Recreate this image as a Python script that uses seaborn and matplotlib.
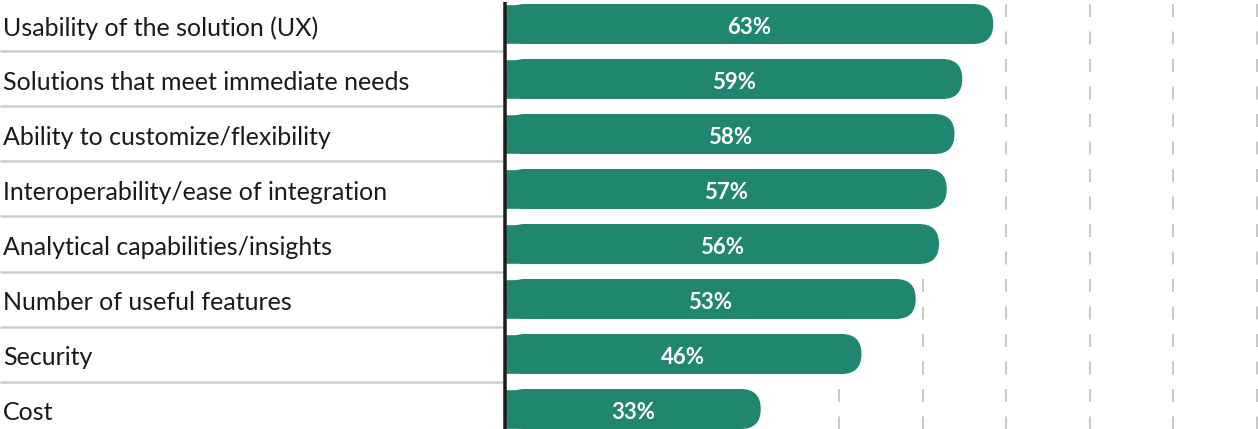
import matplotlib
matplotlib.use("Agg")
import matplotlib.pyplot as plt
import matplotlib.transforms as mtransforms
from matplotlib.patches import FancyBboxPatch
import numpy as np
import pandas as pd
import seaborn as sns

categories = [
    "Usability of the solution (UX)",
    "Solutions that meet immediate needs",
    "Ability to customize/flexibility",
    "Interoperability/ease of integration",
    "Analytical capabilities/insights",
    "Number of useful features",
    "Security",
    "Cost",
]
values = [63, 59, 58, 57, 56, 53, 46, 33]
value_labels = ["63%", "59%", "58%", "57%", "56%", "53%", "46%", "33%"]

BAR_COLOR = "#218670"
GRID_COLOR = "#c9c9c9"
SEP_COLOR = "#cccccc"
AXIS_COLOR = "#1c1c1c"

sns.set_theme(style="white")
plt.rcParams["font.family"] = ["Lato", "DejaVu Sans"]
plt.rcParams["lines.scale_dashes"] = False

W, H, DPI = 1258, 429, 100
fig = plt.figure(figsize=(W / DPI, H / DPI), dpi=DPI)
ax_left_px = 505
ax = fig.add_axes([ax_left_px / W, 0, (W - ax_left_px) / W, 1])

df = pd.DataFrame({"category": categories, "value": values})
bar_h = 40 / 55
sns.barplot(data=df, x="value", y="category", orient="h", color=BAR_COLOR,
            saturation=1, width=bar_h, ax=ax, zorder=2)

XMAX = 97.16
ax.set_xlim(0, XMAX)
ax.set_ylim(7 + (429 - 24 - 385) / 55, -24 / 55)
for s in ax.spines.values():
    s.set_visible(False)
ax.set_xticks([])
ax.set_yticks([])
ax.set_xlabel("")
ax.set_ylabel("")

px_per_x = (W - ax_left_px) / XMAX
px_per_y = 55.0
r_x = (bar_h / 2) * px_per_y / px_per_x
aspect = (bar_h / 2) / r_x

for p in list(ax.patches):
    x0, y0, w, h = p.get_x(), p.get_y(), p.get_width(), p.get_height()
    fb = FancyBboxPatch((x0, y0), w, h,
                        boxstyle=f"round,pad=0,rounding_size={r_x * 0.999}",
                        mutation_aspect=aspect, facecolor=BAR_COLOR,
                        edgecolor="none", zorder=2)
    ax.add_patch(fb)
    p.set_width(max(w - r_x, 0))

# value labels
for i, (v, lab) in enumerate(zip(values, value_labels)):
    ax.text(v / 2, i + 0.07, lab, ha="center", va="center", color="white",
            fontsize=16, fontweight="bold", zorder=4)

# dashed gridlines, per row, only beyond the bar
grid_x = np.linspace(0, 97, 10)
on, off = 13 * 72 / DPI, 14.5 * 72 / DPI
for i, v in enumerate(values):
    top = i - bar_h / 2
    bot = i + 1 - bar_h / 2
    for g in grid_x:
        if g > v:
            ax.plot([g, g], [top, bot], color=GRID_COLOR, lw=2 * 72 / DPI,
                    linestyle=(0, (on, off)), solid_capstyle="butt",
                    dash_capstyle="butt", zorder=1, clip_on=False)

# axis line
ax.plot([0, 0], [-22 / 55, 7 + (429 - 24 - 385) / 55], color=AXIS_COLOR,
        lw=3.5 * 72 / DPI, zorder=5, solid_capstyle="butt", clip_on=False)

# category labels and separators on the left
trans = mtransforms.blended_transform_factory(fig.transFigure, ax.transData)
for i, c in enumerate(categories):
    ax.text(3 / W, i + 0.07, c, transform=trans, ha="left", va="center",
            fontsize=18, color="#1a1a1a", clip_on=False)
for i in range(len(categories) - 1):
    ax.plot([0, 503 / W], [i + 0.5, i + 0.5], transform=trans, color=SEP_COLOR,
            lw=2.5 * 72 / DPI, solid_capstyle="butt", clip_on=False, zorder=1)

fig.savefig("out.png", dpi=DPI)
